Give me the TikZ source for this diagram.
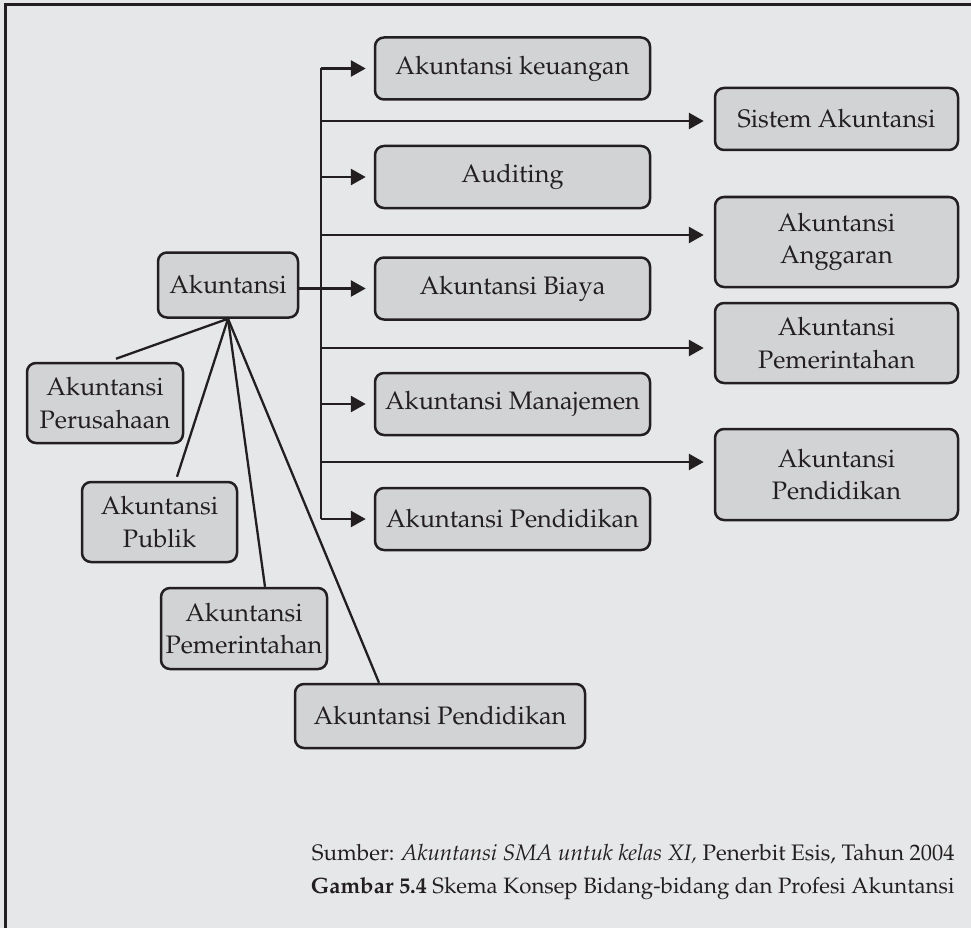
\documentclass[tikz,border=0pt]{standalone}
\usepackage[T1]{fontenc}
\renewcommand{\rmdefault}{ppl}
\usepackage{tikz}
\usetikzlibrary{arrows.meta}
\definecolor{bgGray}{HTML}{E6E7E8}
\definecolor{boxGray}{HTML}{D2D3D5}
\definecolor{inkDark}{HTML}{231F20}
\tikzset{
  kotak/.style={draw=inkDark, fill=boxGray, line width=2.5pt, rounded corners=9pt, align=center, text=inkDark, inner sep=0pt, font=\fontsize{25.3}{32.5}\selectfont},
  midbox/.style={kotak, minimum width=275pt, minimum height=62pt},
  rightbox/.style={kotak, minimum width=243pt},
  garis/.style={inkDark, line width=2.8pt},
  panah/.style={garis, -{Triangle[length=15pt,width=16pt]}},
  cabang/.style={inkDark, line width=2.3pt}
}

\begin{document}
\begin{tikzpicture}[x=1pt,y=-1pt]
\fill[bgGray] (0,0) rectangle (971,928);
\useasboundingbox (0,0) rectangle (971,928);
\draw[inkDark, line width=3pt] (5,928) -- (5,5) -- (971,5);

\node (akun) [kotak, minimum width=140pt, minimum height=65pt] at (228,285) {Akuntansi};

\node (keuangan) [midbox] at (512.5,68.5) {Akuntansi keuangan};
\node (audit) [midbox] at (512.5,177) {Auditing};
\node (biaya) [midbox] at (512.5,288.5) {Akuntansi Biaya};
\node (manaj) [midbox] at (512.5,404) {Akuntansi Manajemen};
\node (didikM) [midbox] at (512.5,519) {Akuntansi Pendidikan};

\node (sistem) [rightbox, minimum height=62pt] at (836.5,119) {Sistem Akuntansi};
\node (anggaran) [rightbox, minimum height=90pt] at (836.5,242) {Akuntansi\\Anggaran};
\node (pemR) [rightbox, minimum height=80pt] at (836.5,343) {Akuntansi\\Pemerintahan};
\node (didikR) [rightbox, minimum height=91pt] at (836.5,474.5) {Akuntansi\\Pendidikan};

\node (perus) [kotak, minimum width=156pt, minimum height=80pt] at (105,403) {Akuntansi\\Perusahaan};
\node (publik) [kotak, minimum width=155pt, minimum height=80pt] at (159.5,522) {Akuntansi\\Publik};
\node (pemL) [kotak, minimum width=166pt, minimum height=81pt] at (244,628.5) {Akuntansi\\Pemerintahan};
\node (didikL) [kotak, minimum width=290pt, minimum height=64pt] at (440,716) {Akuntansi Pendidikan};

% batang utama
\coordinate (trunkTop) at (321,68.5);
\coordinate (trunkBot) at (321,519);
\draw[garis] (trunkTop) -- (trunkBot);
\foreach \b in {keuangan,audit,manaj,didikM}
  \draw[panah, shorten >=8pt] (\b.west -| trunkTop) -- (\b.west);
\draw[panah, shorten >=8pt] (akun.east |- biaya.west) -- (biaya.west);

\coordinate (j1) at (321,121);
\coordinate (j2) at (321,235);
\coordinate (j3) at (321,348);
\coordinate (j4) at (321,462);
\draw[panah, shorten >=10pt] (j1) -- (j1 -| sistem.west);
\draw[panah, shorten >=10pt] (j2) -- (j2 -| anggaran.west);
\draw[panah, shorten >=10pt] (j3) -- (j3 -| pemR.west);
\draw[panah, shorten >=10pt] (j4) -- (j4 -| didikR.west);

\draw[cabang] (akun.south) -- ([xshift=11pt,yshift=3pt]perus.north);
\draw[cabang] (akun.south) -- ([xshift=17.5pt,yshift=4pt]publik.north);
\draw[cabang] (akun.south) -- ([xshift=21pt]pemL.north);
\draw[cabang] (akun.south) -- ([xshift=-61pt]didikL.north);

\node (sumber) [anchor=east, text=inkDark, font=\fontsize{22.4}{27}\selectfont] at (958,854) {Sumber: \textit{Akuntansi SMA untuk kelas XI,} Penerbit Esis, Tahun 2004};
\node (judul) [anchor=east, text=inkDark, font=\fontsize{22.2}{27}\selectfont] at (958,889) {\textbf{Gambar 5.4} Skema Konsep Bidang-bidang dan Profesi Akuntansi};
\end{tikzpicture}
\end{document}
